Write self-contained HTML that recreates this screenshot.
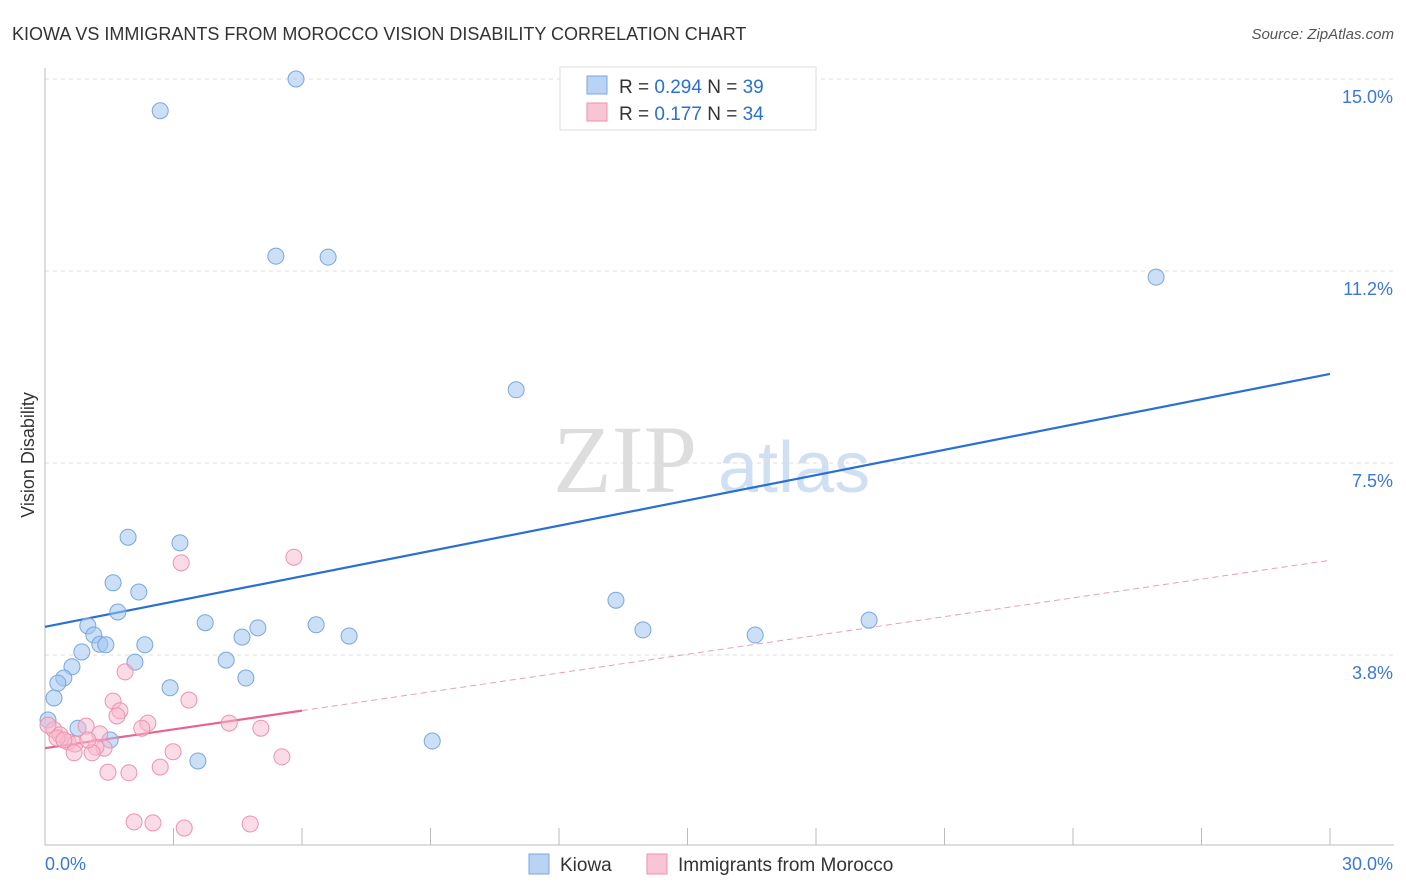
<!DOCTYPE html>
<html><head><meta charset="utf-8"><style>
body{margin:0;background:#fff;font-family:"Liberation Sans",sans-serif;}
svg{display:block}
</style></head><body>
<svg id="chart" width="1406" height="892">
<text x="12" y="40" font-size="18" fill="#333">KIOWA VS IMMIGRANTS FROM MOROCCO VISION DISABILITY CORRELATION CHART</text>
<text x="1394" y="39" font-size="15" fill="#555" text-anchor="end" font-style="italic">Source: ZipAtlas.com</text>
<text x="34" y="455" font-size="18" fill="#333" text-anchor="middle" transform="rotate(-90 34 455)">Vision Disability</text>
<g><text x="553" y="492" font-size="96" font-family="Liberation Serif,serif" fill="#ddd">ZIP</text><text x="718" y="492" font-size="72" fill="#cfe0f3">atlas</text></g>
<g id="grid"></g><g id="axes"></g><g id="lines"></g><g id="pts"></g>
<g>
<rect x="560" y="67" width="256" height="63" fill="#fff" stroke="#ddd"/>
<rect x="587" y="76" width="20" height="18" fill="#b9d3f5" stroke="#7aa6e0"/>
<rect x="587" y="103" width="20" height="18" fill="#f9c4d4" stroke="#ee92ae"/>
<text x="619" y="93" font-size="19" fill="#333">R = <tspan fill="#2a6fd4">0.294</tspan>   N = <tspan fill="#2a6fd4">39</tspan></text>
<text x="619" y="120" font-size="19" fill="#333">R =  <tspan fill="#2a6fd4">0.177</tspan>   N = <tspan fill="#2a6fd4">34</tspan></text>
</g>
<g>
<rect x="529" y="854" width="20" height="20" fill="#b9d3f5" stroke="#7aa6e0"/>
<text x="560" y="871" font-size="19" fill="#333">Kiowa</text>
<rect x="647" y="854" width="20" height="20" fill="#f9c4d4" stroke="#ee92ae"/>
<text x="678" y="871" font-size="19" fill="#333">Immigrants from Morocco</text>
</g>
</svg>
<script>
const blueX=[5.86,2.69,5.39,6.61,25.94,11.0,1.94,3.15,1.59,2.19,1.70,13.33,1.00,3.74,1.14,4.97,4.60,6.33,7.10,13.96,16.58,19.24,1.28,1.42,2.33,0.86,0.63,4.23,2.10,0.44,0.30,4.69,2.92,0.21,0.07,0.77,1.52,9.04,3.57];
const blueY=[15.0,14.38,11.54,11.52,11.13,8.93,6.05,5.94,5.16,4.98,4.59,4.82,4.32,4.38,4.14,4.28,4.10,4.34,4.12,4.24,4.14,4.43,3.96,3.95,3.95,3.81,3.52,3.65,3.61,3.30,3.20,3.30,3.11,2.91,2.48,2.32,2.09,2.07,1.68];
const pinkX=[5.81,3.18,1.87,1.59,3.36,1.75,1.68,2.40,4.30,0.96,5.04,2.26,1.28,0.21,0.07,0.35,0.54,0.28,0.70,1.38,1.19,1.10,2.99,0.68,5.53,2.69,1.47,1.96,2.08,2.52,3.25,4.79,1.00,0.44];
const pinkY=[5.66,5.55,3.42,2.85,2.87,2.66,2.56,2.42,2.42,2.36,2.32,2.32,2.21,2.29,2.38,2.19,2.05,2.13,2.01,1.93,1.95,1.84,1.86,1.84,1.76,1.56,1.46,1.45,0.49,0.47,0.37,0.45,2.09,2.09];
const blueTrend=[4.30,9.24];
const pinkTrend=[1.93,5.60];
const yTicks=[3.75,7.5,11.25,15];
const yTickLabels=["3.8%","7.5%","11.2%","15.0%"];
const xTicks=[0,3,6,9,12,15,18,21,24,27,30];
const xLabels=["0.0%","30.0%"];
const NS="http://www.w3.org/2000/svg";
const X=v=>45+v*(1285/30), Y=v=>847-v*51.2;
function mk(p,t,a){const e=document.createElementNS(NS,t);for(const k in a)e.setAttribute(k,a[k]);document.getElementById(p).appendChild(e);return e;}
yTicks.forEach((t,i)=>{
 const g=mk('grid','line',{x1:45,x2:1394,y1:Y(t),y2:Y(t),stroke:'#ddd','stroke-dasharray':'4 4'});
 
 
 const l=mk('grid','text',{x:1393,y:Y(t)+24,'font-size':18,fill:'#3a78d8','text-anchor':'end'});l.textContent=yTickLabels[i];
 
 
});
const ya=mk('axes','line',{x1:45,x2:45,y1:68,y2:845,stroke:'#bbb'});


const xa=mk('axes','line',{x1:45,x2:1394,y1:845,y2:845,stroke:'#bbb'});


xTicks.forEach(t=>{const e=mk('axes','line',{x1:X(t),x2:X(t),y1:828,y2:845,stroke:'#bbb'});
 
 });
[[0,'start',45],[30,'end',1393]].forEach((d,i)=>{const e=mk('axes','text',{x:d[2],y:870,'font-size':18,fill:'#3a78d8','text-anchor':d[1]});e.textContent=xLabels[i];
 
 });
blueX.forEach((v,i)=>{const c=mk('pts','circle',{cx:X(v),cy:Y(blueY[i]),r:8,fill:'rgba(160,196,240,0.55)',stroke:'#7aa6e0','stroke-width':1});
 
 });
pinkX.forEach((v,i)=>{const c=mk('pts','circle',{cx:X(v),cy:Y(pinkY[i]),r:8,fill:'rgba(248,184,204,0.5)',stroke:'#ee92ae','stroke-width':1});
 
 });
const bl=mk('lines','line',{x1:X(0),y1:Y(blueTrend[0]),x2:X(30),y2:Y(blueTrend[1]),stroke:'#2a6fd4','stroke-width':2.2});


const pv=x=>pinkTrend[0]+(pinkTrend[1]-pinkTrend[0])*x/30;
const pl=mk('lines','line',{x1:X(0),y1:Y(pv(0)),x2:X(6),y2:Y(pv(6)),stroke:'#e8648c','stroke-width':2.2});


const pd=mk('lines','line',{x1:X(6),y1:Y(pv(6)),x2:X(30),y2:Y(pv(30)),stroke:'#e8a0b6','stroke-width':1,'stroke-dasharray':'6 4'});


</script>
</body></html>
